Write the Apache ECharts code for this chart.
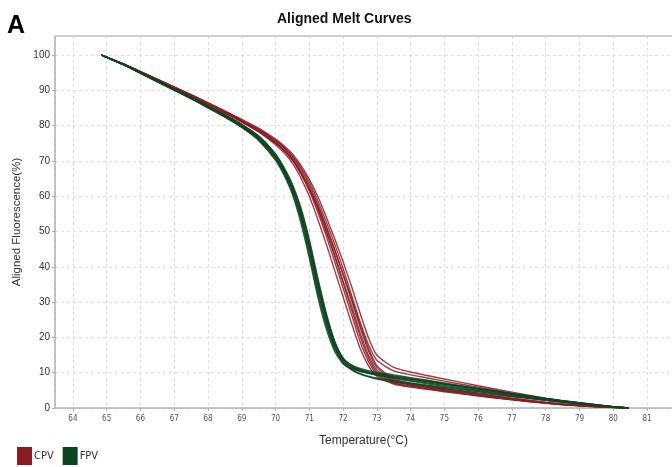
<!DOCTYPE html>
<html>
<head>
<meta charset="utf-8">
<script src="https://cdn.jsdelivr.net/npm/echarts@6/dist/echarts.min.js"></script>
<style>
html,body{margin:0;padding:0;background:#fff;}
#chart{width:672px;height:467px;}
</style>
</head>
<body>
<div id="chart"></div>
<script>
// Temperatures (°C) shared by all curves
const temps = [64.85, 65.5, 66, 66.5, 67, 67.5, 68, 68.5, 69, 69.5, 70, 70.25, 70.5, 70.75, 71, 71.25, 71.5, 71.75, 72, 72.25, 72.5, 72.75, 73, 73.5, 74, 75, 76, 77, 78, 79, 80, 80.45];

// CPV curves (aligned fluorescence %)
const cpv1 = [100, 97.4, 95.2, 93.0, 90.6, 88.4, 86.0, 83.6, 81.0, 78.2, 74.6, 72.3, 69.4, 65.2, 60.0, 53.5, 46.5, 39.0, 31.5, 24.0, 17.0, 12.0, 9.0, 6.8, 5.9, 4.6, 3.4, 2.3, 1.3, 0.6, 0.15, 0];
const cpv2 = [100, 97.4, 95.2, 93.0, 90.7, 88.5, 86.1, 83.7, 81.2, 78.5, 75.0, 72.9, 70.2, 66.3, 61.5, 55.5, 48.8, 41.5, 34.0, 26.5, 19.0, 13.2, 9.6, 7.0, 6.1, 4.8, 3.5, 2.4, 1.4, 0.6, 0.15, 0];
const cpv3 = [100, 97.5, 95.3, 93.1, 90.8, 88.6, 86.2, 83.8, 81.3, 78.6, 75.3, 73.2, 70.6, 66.8, 62.2, 56.5, 50.0, 43.0, 35.5, 28.0, 20.5, 14.2, 10.2, 7.2, 6.2, 4.9, 3.6, 2.4, 1.4, 0.6, 0.15, 0];
const cpv4 = [100, 97.4, 95.2, 93.0, 90.6, 88.4, 86.0, 83.6, 81.1, 78.4, 75.1, 73.0, 70.4, 66.6, 62.0, 56.5, 50.2, 43.5, 36.0, 29.0, 21.5, 15.0, 10.8, 7.5, 6.5, 5.1, 3.8, 2.6, 1.5, 0.7, 0.2, 0];
const cpv5 = [100, 97.5, 95.3, 93.1, 90.9, 88.7, 86.3, 84.0, 81.5, 78.9, 75.7, 73.7, 71.2, 67.6, 63.2, 57.8, 51.5, 45.0, 37.8, 30.5, 23.0, 16.2, 11.5, 7.8, 6.6, 5.2, 3.9, 2.7, 1.6, 0.7, 0.2, 0];
const cpv6 = [100, 97.4, 95.2, 93.0, 90.7, 88.5, 86.1, 83.7, 81.2, 78.5, 75.2, 73.1, 70.5, 66.8, 62.4, 57.2, 51.2, 44.8, 38.0, 31.0, 23.8, 17.0, 12.0, 8.2, 7.0, 5.5, 4.1, 2.8, 1.6, 0.7, 0.2, 0];
const cpv7 = [100, 97.5, 95.3, 93.2, 91.0, 88.8, 86.5, 84.2, 81.8, 79.3, 76.2, 74.3, 72.0, 68.8, 64.8, 60.0, 54.2, 48.0, 41.5, 34.5, 27.0, 20.0, 15.0, 11.5, 10.2, 8.2, 6.3, 4.5, 2.8, 1.3, 0.3, 0];
const cpv8 = [100, 97.4, 95.3, 93.1, 90.9, 88.7, 86.4, 84.0, 81.6, 79.0, 75.9, 73.9, 71.5, 68.2, 64.0, 58.8, 52.8, 46.5, 39.5, 32.0, 24.5, 18.0, 13.5, 10.5, 9.4, 7.6, 5.9, 4.2, 2.6, 1.2, 0.3, 0];

// FPV curves (aligned fluorescence %)
const fpv1 = [100, 97.2, 94.9, 92.5, 90.1, 87.7, 85.1, 82.5, 79.5, 75.8, 70.2, 66.0, 60.5, 52.5, 42.5, 31.5, 22.5, 16.0, 12.5, 11.2, 10.5, 10.0, 9.6, 8.9, 8.2, 6.8, 5.4, 4.0, 2.7, 1.5, 0.4, 0];
const fpv2 = [100, 97.3, 95.0, 92.6, 90.2, 87.8, 85.3, 82.7, 79.8, 76.3, 70.9, 66.8, 61.6, 54.2, 44.5, 33.5, 24.0, 17.0, 13.0, 11.3, 10.4, 9.8, 9.3, 8.5, 7.8, 6.4, 5.0, 3.7, 2.5, 1.3, 0.3, 0];
const fpv3 = [100, 97.3, 95.0, 92.7, 90.3, 88.0, 85.5, 83.0, 80.2, 76.8, 71.5, 67.5, 62.5, 55.5, 46.0, 35.0, 25.5, 18.0, 13.6, 11.6, 10.6, 9.9, 9.3, 8.4, 7.6, 6.1, 4.8, 3.5, 2.3, 1.2, 0.3, 0];
const fpv4 = [100, 97.4, 95.1, 92.8, 90.4, 88.1, 85.6, 83.1, 80.4, 77.1, 72.0, 68.2, 63.4, 56.8, 47.8, 37.0, 27.0, 19.0, 14.0, 11.8, 10.7, 10.0, 9.5, 8.8, 8.1, 6.7, 5.3, 3.9, 2.6, 1.4, 0.4, 0];
const fpv5 = [100, 97.2, 94.8, 92.4, 90.0, 87.6, 85.0, 82.4, 79.6, 76.2, 71.0, 67.0, 62.0, 55.0, 45.5, 34.5, 25.0, 17.5, 13.2, 11.0, 9.8, 9.0, 8.5, 7.8, 7.1, 5.8, 4.6, 3.4, 2.2, 1.1, 0.3, 0];
const fpv6 = [100, 97.3, 95.0, 92.6, 90.3, 87.9, 85.4, 82.9, 80.0, 76.6, 71.3, 67.3, 62.2, 55.2, 45.8, 35.5, 26.0, 18.5, 14.0, 12.2, 11.2, 10.6, 10.1, 9.4, 8.6, 7.1, 5.6, 4.1, 2.7, 1.5, 0.4, 0];
const fpv7 = [100, 97.3, 94.9, 92.5, 90.2, 87.8, 85.2, 82.6, 79.7, 76.0, 70.5, 66.4, 61.0, 53.5, 43.5, 32.5, 23.5, 16.8, 12.8, 10.8, 9.6, 8.8, 8.2, 7.4, 6.8, 5.5, 4.3, 3.2, 2.1, 1.1, 0.3, 0];
const fpv8 = [100, 97.4, 95.1, 92.7, 90.4, 88.0, 85.5, 83.0, 80.3, 77.0, 71.8, 67.9, 63.0, 56.2, 47.0, 36.2, 26.5, 18.8, 14.2, 12.0, 10.9, 10.3, 9.8, 9.1, 8.4, 6.9, 5.5, 4.0, 2.6, 1.4, 0.4, 0];

const cpvCurves = [cpv1, cpv2, cpv3, cpv4, cpv5, cpv6, cpv7, cpv8];
const fpvCurves = [fpv1, fpv2, fpv3, fpv4, fpv5, fpv6, fpv7, fpv8];

const xTickLabels = ['64','65','66','67','68','69','70','71','72','73','74','75','76','77','78','79','80','81'];
const yTickLabels = ['0','10','20','30','40','50','60','70','80','90','100'];

const CPV_COLOR = '#8c1c24';
const FPV_COLOR = '#0e4420';

function makeSeries(name, curve, color) {
  return {
    name: name,
    type: 'line',
    data: temps.map((t, i) => [t, curve[i]]),
    showSymbol: false,
    symbol: 'none',
    smooth: 0.2,
    silent: true,
    itemStyle: { color: color },
    lineStyle: { color: color, width: 1.4, opacity: 0.85 },
    z: name === 'FPV' ? 3 : 2,
    animation: false
  };
}

const series = [];
cpvCurves.forEach(c => series.push(makeSeries('CPV', c, CPV_COLOR)));
fpvCurves.forEach(c => series.push(makeSeries('FPV', c, FPV_COLOR)));

const chart = echarts.init(document.getElementById('chart'), null, { renderer: 'canvas' });
chart.setOption({
  animation: false,
  backgroundColor: '#ffffff',
  title: {
    text: 'Aligned Melt Curves',
    left: 272,
    top: 7,
    textStyle: { fontFamily: 'Liberation Sans, Arial, sans-serif', fontSize: 14, fontWeight: 'bold', color: '#111' }
  },
  graphic: [{
    type: 'text',
    left: 7,
    top: 14,
    style: { text: 'A', fontFamily: 'Liberation Sans, Arial, sans-serif', fontSize: 25, fontWeight: 'bold', fill: '#000' }
  }],
  legend: {
    data: ['CPV', 'FPV'],
    left: 17,
    top: 447,
    padding: 0,
    icon: 'rect',
    itemWidth: 15,
    itemHeight: 18,
    itemGap: 9,
    textStyle: { fontFamily: 'DejaVu Sans Condensed, DejaVu Sans, sans-serif', fontSize: 11, color: '#333', padding: [0, 0, 0, -3] },
    selectedMode: false
  },
  grid: { left: 55, right: 0, top: 36, bottom: 59, containLabel: false },
  xAxis: [{
    type: 'value',
    min: 63.47,
    max: 81.74,
    minInterval: 1,
    maxInterval: 1,
    splitNumber: 18,
    name: 'Temperature(°C)',
    nameLocation: 'middle',
    nameGap: 27,
    nameTextStyle: { fontFamily: 'Liberation Sans, Arial, sans-serif', fontSize: 12, color: '#333' },
    axisLine: { show: true, lineStyle: { color: '#b0b0b0', width: 1.5 } },
    axisTick: { show: true, length: 3, lineStyle: { color: '#b0b0b0' } },
    axisLabel: {
      showMinLabel: false, showMaxLabel: false,
      margin: 7,
      fontFamily: 'DejaVu Sans Condensed, DejaVu Sans, sans-serif',
      fontSize: 8, color: '#555',
      formatter: v => { const s = String(Math.round(v)); return xTickLabels.indexOf(s) >= 0 && Math.abs(v - Math.round(v)) < 1e-6 ? s : ''; }
    },
    splitLine: { show: true, lineStyle: { color: '#dedede', type: [3, 3], width: 1 } }
  }, {
    type: 'value',
    position: 'top',
    min: 63.47,
    max: 81.74,
    axisLine: { show: true, onZero: false, lineStyle: { color: '#cfcfcf', width: 2 } },
    axisTick: { show: false },
    axisLabel: { show: false },
    splitLine: { show: false }
  }],
  yAxis: {
    type: 'value',
    min: 0,
    max: 105.4,
    minInterval: 10,
    maxInterval: 10,
    splitNumber: 10,
    name: 'Aligned Fluorescence(%)',
    nameLocation: 'middle',
    nameGap: 31,
    nameTextStyle: { fontFamily: 'Liberation Sans, Arial, sans-serif', fontSize: 11.5, color: '#333' },
    axisLine: { show: true, lineStyle: { color: '#b0b0b0', width: 1.5 } },
    axisTick: { show: true, length: 3, lineStyle: { color: '#b0b0b0' } },
    axisLabel: {
      showMaxLabel: false,
      margin: 5,
      fontFamily: 'Liberation Sans, Arial, sans-serif',
      fontSize: 10, color: '#333',
      formatter: v => { const s = String(Math.round(v)); return yTickLabels.indexOf(s) >= 0 && Math.abs(v - Math.round(v)) < 1e-6 ? s : ''; }
    },
    splitLine: { show: true, lineStyle: { color: '#dedede', type: [3, 3], width: 1 } }
  },
  series: series
});
</script>
</body>
</html>
